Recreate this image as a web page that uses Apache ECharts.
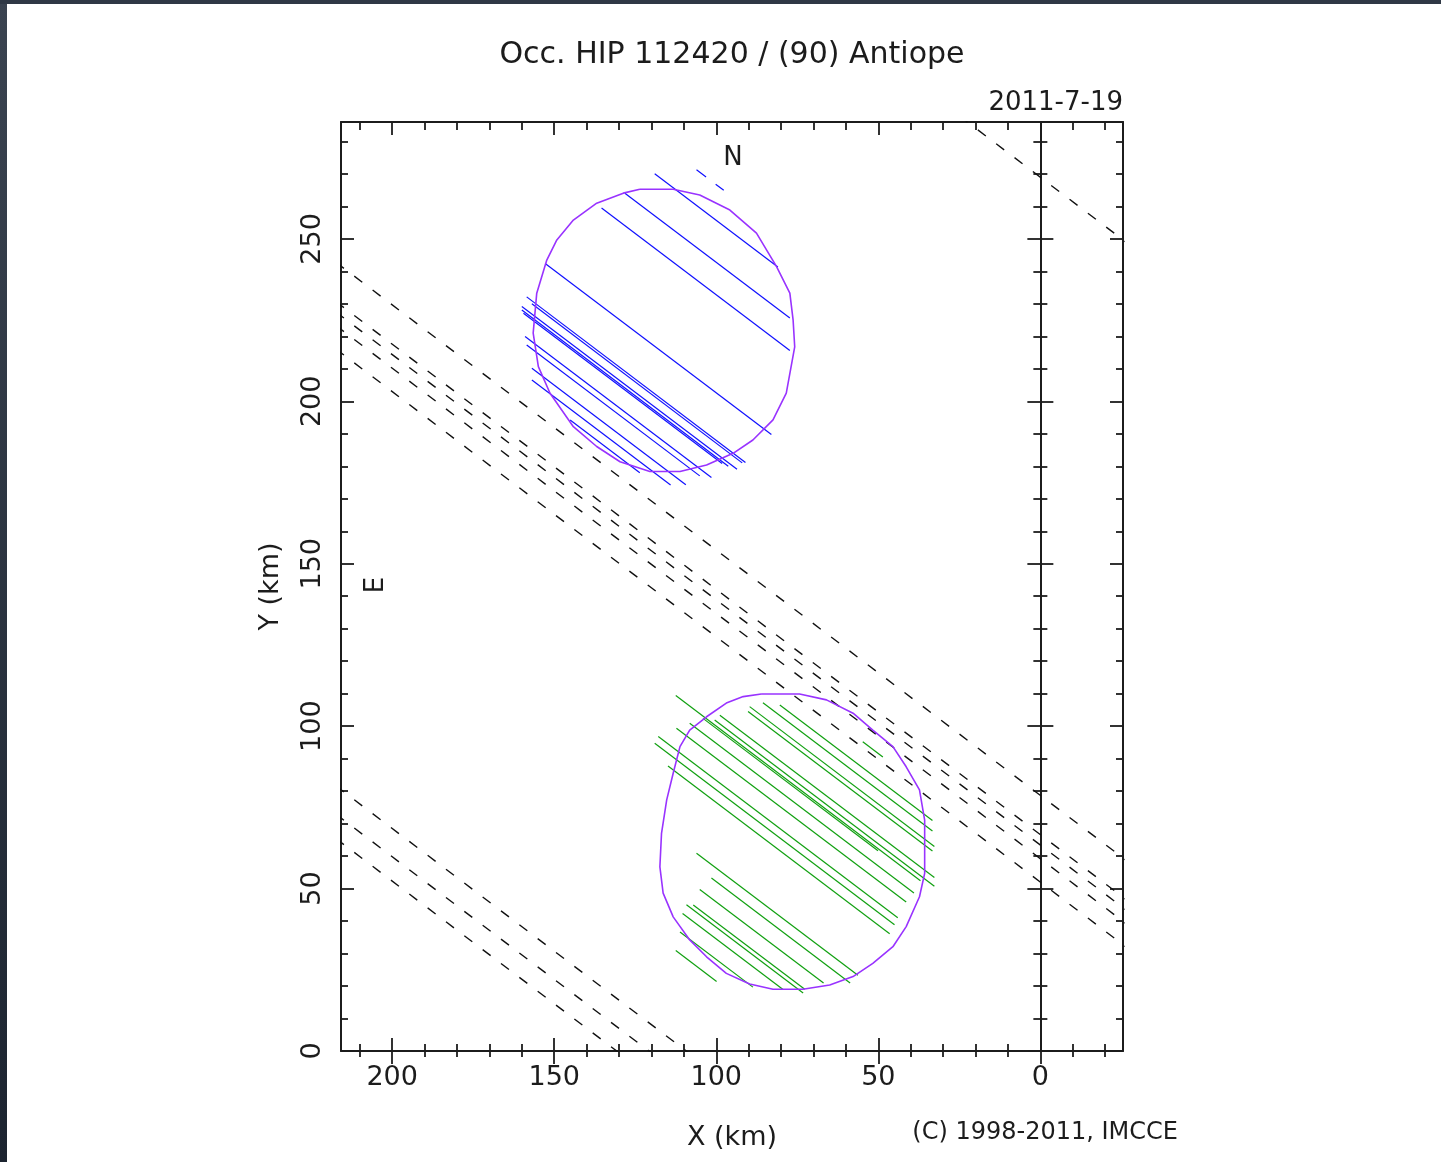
<!DOCTYPE html>
<html><head><meta charset="utf-8">
<script src="https://cdn.jsdelivr.net/npm/echarts@6/dist/echarts.min.js"></script>
<style>html,body{margin:0;padding:0;background:#fff;}#c{width:1441px;height:1162px;}</style>
</head><body><div id="c"></div>
<script>
// ---------------- data (km) ----------------
const chordSlope = 0.755;            // dY/dX shared by every chord
// dashed chords (negative observations): Y intercept at X = 0
const missIntercepts = [269.0, 78.7, 66.6, 63.4, 59.2, 52.0, -82.5, -91.2, -98.7];
// blue chords (north body)
const blueIntercepts = [180.2, 167.3, 157.3, 127.1, 112.5, 111.6, 108.4, 107.3, 106.7, 99.9, 97.7, 91.7, 88.1, 84.7];
const blueStartX     = [119.0, 128.2, 135.4, 152.8, 158.5, 156.9, 160.0, 160.0, 159.5, 159.0, 158.5, 156.9, 156.9, 145.1];
const blueEndX       = [ 81.0,  77.3,  77.3,  83.0,  91.0,  92.0,  93.6,  96.3,  98.2, 101.5, 105.1, 109.4, 114.1, 123.6];
// blue dashed chord near "N"
const blueDashIntercept = 191.2;
const blueDashStartX = 106.1;
const blueDashEndX = 97.7;
// green chords (south body)
const greenIntercepts = [24.5, 19.2, 14.6, 7.8, 4.9, 1.0, 23.8, 26.0, 28.7, 36.4, 38.3, 42.6, 45.8, 53.8,
                         -19.2, -23.4, -29.6, -37.4, -35.9, -41.0, -47.3, -54.0];
const greenStartX    = [112.5, 108.2, 112.3, 117.9, 119.0, 114.9, 104.1, 100.5, 98.9, 90.2, 89.7, 85.6, 80.4, 54.8,
                        106.1, 101.5, 105.1, 109.2, 107.1, 110.4, 111.2, 112.5];
const greenEndX      = [37.0, 39.0, 41.4, 44.0, 45.0, 46.5, 50.1, 32.7, 32.7, 33.3, 32.7, 33.3, 33.3, 48.6,
                        56.3, 58.7, 66.9, 73.2, 72.7, 79.4, 88.7, 99.9];
// body outlines
const northX = [123.6,113.3,105.1,95.8,87.6,81.4,77.3,76.3,75.8,78.4,82.5,88.7,94.8,103.0,111.2,120.5,129.7,136.9,144.1,151.3,154.9,156.5,155.4,152.3,149.2,144.1,136.9,128.7,123.6];
const northY = [265.3,265.3,263.5,258.9,251.8,241.5,233.3,225.1,216.8,202.5,194.3,188.1,184.0,180.4,178.4,178.4,181.4,186.1,192.2,202.5,210.7,221.0,233.3,243.5,249.7,255.8,261.0,264.1,265.3];
const southX = [86.1,74.3,66.0,57.8,51.7,45.5,41.4,37.3,35.7,35.7,35.7,37.3,41.4,45.5,51.7,57.8,65.0,73.3,82.5,89.7,96.9,103.0,108.2,113.3,116.4,117.4,116.9,115.3,113.3,111.2,108.2,103.0,96.9,91.7,86.1];
const southY = [109.9,109.9,108.1,104.0,98.8,93.7,87.5,80.4,71.1,62.9,54.7,47.5,38.3,32.1,27.0,22.9,20.3,19.0,19.0,20.6,23.9,29.0,34.2,41.3,48.6,56.7,67.0,77.3,85.5,93.7,98.8,102.9,107.1,109.1,109.9];
// axes
const xRange = [-25.5, 215.8];
const yRange = [0, 286];
const xMajorTicks = [0, 50, 100, 150, 200];
const xMinorTicks = [-20, -10, 10, 20, 30, 40, 60, 70, 80, 90, 110, 120, 130, 140, 160, 170, 180, 190, 210];
const yMajorTicks = [0, 50, 100, 150, 200, 250];
const yMinorTicks = [10, 20, 30, 40, 60, 70, 80, 90, 110, 120, 130, 140, 160, 170, 180, 190, 210, 220, 230, 240, 260, 270, 280];
const titleText = 'Occ. HIP 112420 / (90) Antiope';
const dateText = '2011-7-19';
const creditText = '(C) 1998-2011, IMCCE';

// ---------------- chart ----------------
const FONT = 'DejaVu Sans';
const INK = '#1c1c1c';
const chart = echarts.init(document.getElementById('c'), null, {renderer: 'canvas'});

function chord(b, xs, xe, color, dash, w) {
  return {
    type: 'line', xAxisIndex: 0, yAxisIndex: 0, silent: true, animation: false,
    showSymbol: false, symbol: 'none', clip: true, z: 3,
    lineStyle: {color: color, width: w || 1.2, type: dash || 'solid'},
    data: [[xs, b + chordSlope * xs], [xe, b + chordSlope * xe]]
  };
}
const series = [];
missIntercepts.forEach(b => series.push(chord(b, 240, -40, '#111', [10, 13], 1.4)));
blueIntercepts.forEach((b, i) => series.push(chord(b, blueStartX[i], blueEndX[i], '#1010ff')));
series.push(chord(blueDashIntercept, blueDashStartX, blueDashEndX, '#1010ff', [12, 12]));
greenIntercepts.forEach((b, i) => series.push(chord(b, greenStartX[i], greenEndX[i], '#10a010')));
[[northX, northY], [southX, southY]].forEach(([xs, ys]) => series.push({
  type: 'line', silent: true, animation: false, showSymbol: false, symbol: 'none', z: 4,
  lineStyle: {color: '#9933ff', width: 1.6},
  data: xs.map((x, i) => [x, ys[i]])
}));

const tickStyle = {color: INK, width: 1.8};
function xAx(pos, ticks, len, inside, more) {
  return Object.assign({
    type: 'value', position: pos, min: xRange[0], max: xRange[1], inverse: true,
    splitLine: {show: false}, axisLine: {show: false, onZero: false},
    axisLabel: {show: false},
    axisTick: {show: true, customValues: ticks, length: len, inside: inside, lineStyle: tickStyle}
  }, more || {});
}
function yAx(pos, ticks, len, inside, more) {
  return Object.assign({
    type: 'value', position: pos, min: yRange[0], max: yRange[1],
    splitLine: {show: false}, axisLine: {show: false, onZero: false},
    axisLabel: {show: false},
    axisTick: {show: true, customValues: ticks, length: len, inside: inside, lineStyle: tickStyle}
  }, more || {});
}
const lineStyleAxis = {color: INK, width: 2};
const xAxes = [
  xAx('bottom', xMajorTicks, 13, false, {
    axisLine: {show: true, onZero: false, lineStyle: lineStyleAxis},
    axisLabel: {show: true, customValues: xMajorTicks, margin: 13, fontSize: 27, fontFamily: FONT, color: INK},
    name: 'X (km)', nameLocation: 'middle', nameGap: 73,
    nameTextStyle: {fontSize: 27, fontFamily: FONT, color: INK}
  }),
  xAx('bottom', xMajorTicks, 13, true),
  xAx('bottom', xMinorTicks, 7, true),
  xAx('bottom', xMinorTicks, 6, false),
  xAx('top', xMajorTicks.filter(v => v !== 0), 13, true, {axisLine: {show: true, onZero: false, lineStyle: lineStyleAxis}}),
  xAx('top', xMinorTicks, 8, true)
];
const yAxes = [
  yAx('left', yMajorTicks, 13, true, {
    axisLine: {show: true, onZero: false, lineStyle: lineStyleAxis},
    axisLabel: {show: true, customValues: yMajorTicks, rotate: 90, margin: 15, fontSize: 27, fontFamily: FONT, color: INK},
    name: 'Y (km)', nameLocation: 'middle', nameGap: 57, nameRotate: 90,
    nameTextStyle: {fontSize: 27, fontFamily: FONT, color: INK}
  }),
  yAx('left', yMinorTicks, 7, true),
  yAx('right', yMajorTicks, 13, true, {axisLine: {show: true, onZero: false, lineStyle: lineStyleAxis}}),
  yAx('right', yMinorTicks, 7, true),
  // the X = 0 reference line with ticks crossing it
  yAx('left', yMajorTicks, 13, false, {axisLine: {show: true, onZero: true, onZeroAxisIndex: 0, lineStyle: lineStyleAxis}}),
  yAx('left', yMajorTicks, 13, true, {axisLine: {show: false, onZero: true, onZeroAxisIndex: 0}}),
  yAx('left', yMinorTicks, 7, false, {axisLine: {show: false, onZero: true, onZeroAxisIndex: 0}}),
  yAx('left', yMinorTicks, 7, true, {axisLine: {show: false, onZero: true, onZeroAxisIndex: 0}})
];

const option = {
  animation: false,
  backgroundColor: '#ffffff',
  grid: {left: 341, right: 318, top: 122, bottom: 111, containLabel: false, outerBoundsMode: 'none'},
  xAxis: xAxes,
  yAxis: yAxes,
  series: series,
  graphic: [
    {type: 'rect', left: 0, top: 0, z: 100, silent: true, shape: {width: 7, height: 1162},
     style: {fill: new echarts.graphic.LinearGradient(0, 0, 0, 1, [{offset: 0, color: '#3a4350'}, {offset: 1, color: '#1c2430'}])}},
    {type: 'rect', left: 0, top: 0, z: 100, silent: true, shape: {width: 1441, height: 4}, style: {fill: '#2f3845'}},
    {type: 'text', x: 732, y: 55, z: 50, silent: true,
     style: {text: titleText, fontSize: 30, fontFamily: FONT, fill: INK, align: 'center', verticalAlign: 'middle'}},
    {type: 'text', x: 1123, y: 103, z: 50, silent: true,
     style: {text: dateText, fontSize: 26, fontFamily: FONT, fill: INK, align: 'right', verticalAlign: 'middle'}},
    {type: 'text', x: 1178, y: 1133, z: 50, silent: true,
     style: {text: creditText, fontSize: 24, fontFamily: FONT, fill: INK, align: 'right', verticalAlign: 'middle'}},
    {type: 'text', x: 733, y: 158, z: 50, silent: true,
     style: {text: 'N', fontSize: 26, fontFamily: FONT, fill: INK, align: 'center', verticalAlign: 'middle'}},
    {type: 'text', x: 376, y: 585, z: 50, silent: true, rotation: Math.PI / 2,
     style: {text: 'E', fontSize: 26, fontFamily: FONT, fill: INK, align: 'center', verticalAlign: 'middle'}}
  ]
};
chart.setOption(option);
</script>
</body></html>
